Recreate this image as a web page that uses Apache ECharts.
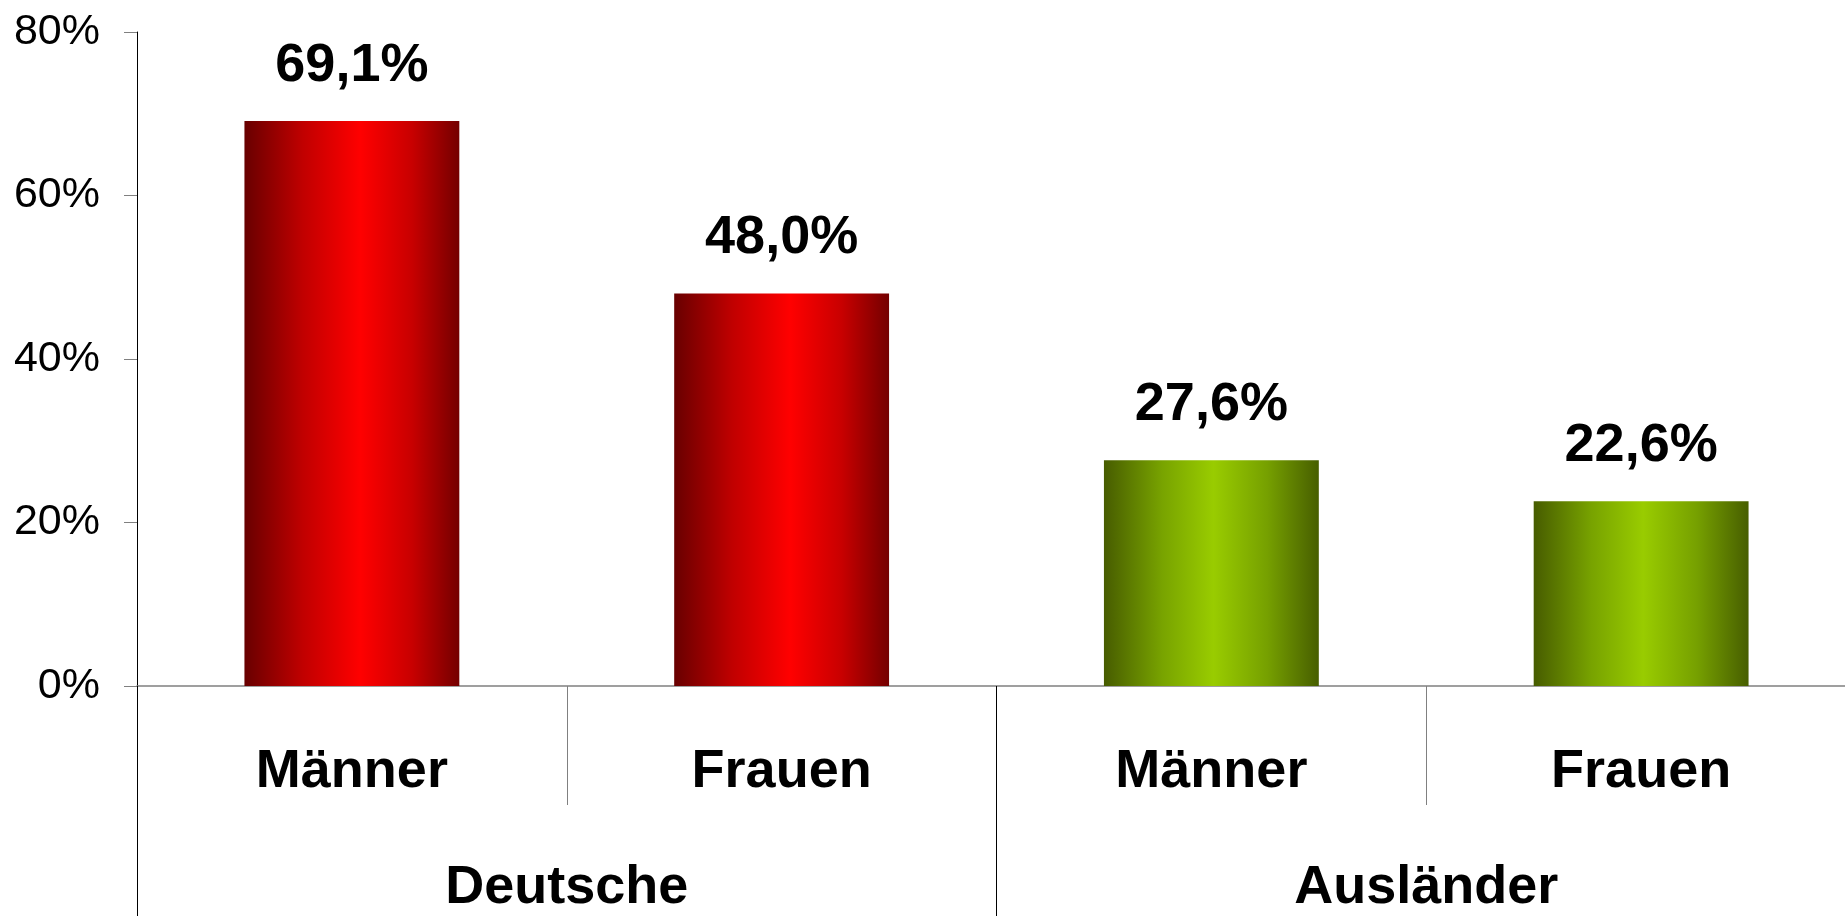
<!DOCTYPE html>
<html>
<head>
<meta charset="utf-8">
<script src="https://cdn.jsdelivr.net/npm/echarts@6/dist/echarts.min.js"></script>
<style>
    html, body { margin: 0; padding: 0; background: #fff; overflow: hidden; }
    /* chart runs a bit past the right edge, like the original */
    #chart { width: 1856px; height: 916px; }
</style>
</head>
<body>
<div id="chart"></div>
<script>
    // Kategorien & Werte
    const categories = ['Männer', 'Frauen', 'Männer', 'Frauen'];
    const groups = ['Deutsche', 'Ausländer'];
    const values = [69.1, 48.0, 27.6, 22.6];
    const barGroup = [0, 0, 1, 1]; // 0 = Deutsche (rot), 1 = Ausländer (grün)
    const yTicks = [0, 20, 40, 60, 80];

    const FONT = '"Liberation Sans", Arial, sans-serif';

    function gradient(g) {
        if (g === 0) {
            return new echarts.graphic.LinearGradient(0, 0, 1, 0, [
                { offset: 0, color: '#680000' },
                { offset: 0.27, color: '#c00000' },
                { offset: 0.54, color: '#ff0000' },
                { offset: 0.78, color: '#c80000' },
                { offset: 1, color: '#740000' }
            ]);
        }
        return new echarts.graphic.LinearGradient(0, 0, 1, 0, [
            { offset: 0, color: '#475c00' },
            { offset: 0.27, color: '#78a300' },
            { offset: 0.51, color: '#99cc00' },
            { offset: 0.76, color: '#76a000' },
            { offset: 1, color: '#475e00' }
        ]);
    }

    const barData = values.map(function (v, i) {
        return { value: v, itemStyle: { color: gradient(barGroup[i]) } };
    });

    const chart = echarts.init(document.getElementById('chart'));
    chart.setOption({
        animation: false,
        grid: { left: 137, top: 32, right: 0, height: 654 },
        xAxis: [
            {
                type: 'category',
                data: categories,
                position: 'bottom',
                axisLine: { lineStyle: { color: '#808080', width: 1.5 } },
                axisTick: { show: true, alignWithLabel: false, length: 119, lineStyle: { color: '#808080' } },
                axisLabel: {
                    margin: 59,
                    color: '#000',
                    fontFamily: FONT,
                    fontWeight: 'bold',
                    fontSize: 54
                }
            },
            {
                type: 'category',
                data: groups,
                position: 'bottom',
                axisLine: { show: false },
                axisTick: { show: true, alignWithLabel: false, length: 240, lineStyle: { color: '#000' } },
                axisLabel: {
                    margin: 175,
                    color: '#000',
                    fontFamily: FONT,
                    fontWeight: 'bold',
                    fontSize: 54
                }
            }
        ],
        yAxis: {
            type: 'value',
            min: yTicks[0],
            max: yTicks[yTicks.length - 1],
            interval: 20,
            axisLine: { show: true, lineStyle: { color: '#000' } },
            axisTick: { show: true, length: 13, lineStyle: { color: '#808080' } },
            splitLine: { show: false },
            axisLabel: {
                margin: 37,
                color: '#000',
                fontFamily: FONT,
                fontSize: 43,
                formatter: '{value}%'
            }
        },
        series: [
            {
                type: 'bar',
                xAxisIndex: 0,
                barWidth: '50%',
                data: barData,
                label: {
                    show: true,
                    position: 'top',
                    distance: 28,
                    color: '#000',
                    fontFamily: FONT,
                    fontWeight: 'bold',
                    fontSize: 54,
                    formatter: function (p) {
                        return p.value.toFixed(1).replace('.', ',') + '%';
                    }
                }
            }
        ]
    });
</script>
</body>
</html>
